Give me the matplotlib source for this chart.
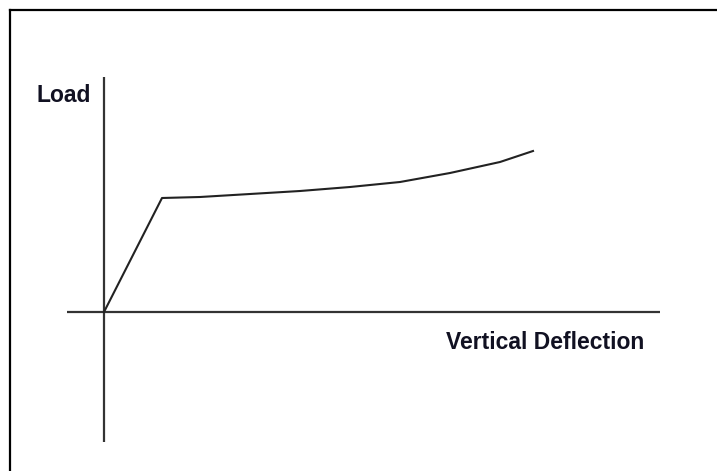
import matplotlib
matplotlib.use('Agg')
import matplotlib.pyplot as plt
from matplotlib.lines import Line2D

# load-deflection curve (arbitrary units, origin at axes crossing)
deflection = [0.0, 5.8, 9.6, 14.6, 19.6, 24.6, 29.6, 34.6, 39.6, 42.9]
load = [0.0, 11.4, 11.5, 11.8, 12.1, 12.5, 13.0, 13.9, 15.0, 16.1]

x_label = 'Vertical Deflection'
y_label = 'Load'

plt.rcParams['font.family'] = ['Liberation Sans', 'DejaVu Sans']

fig = plt.figure(figsize=(7.17, 4.71), dpi=100)
ax = fig.add_axes([0, 0, 1, 1])
ax.set_xlim(-10.4, 61.3)
ax.set_ylim(-15.9, 31.2)
ax.axis('off')

# axis lines
ax.plot([-3.7, 55.6], [0, 0], color='#333333', lw=1.6, solid_capstyle='butt')
ax.plot([0, 0], [-13.0, 23.5], color='#333333', lw=1.6, solid_capstyle='butt')

# curve
ax.plot(deflection, load, color='#222222', lw=1.5)

ax.text(-6.8, 21.0, y_label, fontsize=16.5, fontweight='bold', color='#111122',
        ha='left', va='baseline')
ax.text(34.2, -3.7, x_label, fontsize=16.5, fontweight='bold', color='#111122',
        ha='left', va='baseline')

# frame (top and left edges only)
fig.add_artist(Line2D([10 / 717, 1], [1 - 10 / 471] * 2, transform=fig.transFigure, color='black', lw=1.6))
fig.add_artist(Line2D([10 / 717] * 2, [0, 1 - 10 / 471], transform=fig.transFigure, color='black', lw=1.6))

fig.savefig('out.png', dpi=100)
